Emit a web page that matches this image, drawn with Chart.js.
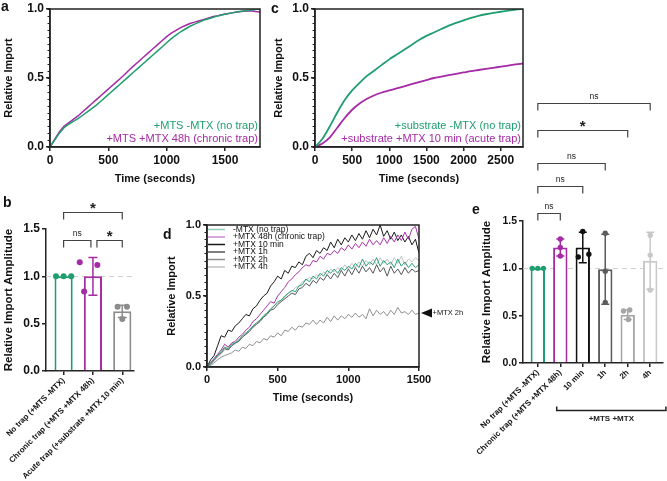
<!DOCTYPE html>
<html>
<head>
<meta charset="utf-8">
<script src="https://cdn.jsdelivr.net/npm/chart.js@4.4.1/dist/chart.umd.min.js"></script>
<style>
  body { margin: 0; background: #fff; }
  #wrap { position: relative; width: 667px; height: 481px; overflow: hidden; font-family: "Liberation Sans", Arial, sans-serif; }
  #wrap canvas { position: absolute; }
  .tag { position: absolute; font-weight: bold; font-size: 14px; line-height: 14px; color: #111; }
</style>
</head>
<body>
<div id="wrap">
  <canvas id="chartA" width="300" height="188" style="left:0;top:0"></canvas>
  <canvas id="chartC" width="290" height="188" style="left:270px;top:0"></canvas>
  <canvas id="chartB" width="160" height="291" style="left:0;top:190px"></canvas>
  <canvas id="chartD" width="302" height="217" style="left:163px;top:190px"></canvas>
  <canvas id="chartE" width="227" height="396" style="left:440px;top:85px"></canvas>
  <div class="tag" style="left:1px;top:-1px">a</div>
  <div class="tag" style="left:271px;top:1px">c</div>
  <div class="tag" style="left:3px;top:195px">b</div>
  <div class="tag" style="left:163px;top:227px">d</div>
  <div class="tag" style="left:472px;top:202px">e</div>
</div>
<script>
// ---- panel a: import kinetics, chronic trap ----
const timeA = [0, 40, 80, 120, 160, 200, 240, 280, 320, 360, 400, 440, 480, 520, 560, 600, 640, 680, 720, 760,
  800, 840, 880, 920, 960, 1000, 1040, 1080, 1120, 1160, 1200, 1240, 1280, 1320, 1360, 1400, 1440, 1480, 1520, 1560,
  1600, 1640, 1680, 1720, 1760, 1800];
const noTrapA = [0, 0.05, 0.10, 0.14, 0.165, 0.185, 0.205, 0.23, 0.255, 0.28, 0.305, 0.335, 0.365, 0.395, 0.425, 0.455,
  0.485, 0.515, 0.545, 0.575, 0.605, 0.635, 0.665, 0.695, 0.725, 0.755, 0.785, 0.81, 0.835, 0.855, 0.875, 0.89, 0.905,
  0.92, 0.93, 0.94, 0.95, 0.958, 0.965, 0.972, 0.978, 0.983, 0.988, 0.992, 0.996, 1.0];
const chronicA = [0, 0.055, 0.11, 0.15, 0.175, 0.20, 0.225, 0.255, 0.285, 0.315, 0.345, 0.375, 0.405, 0.435, 0.465, 0.495,
  0.525, 0.56, 0.59, 0.62, 0.65, 0.68, 0.71, 0.74, 0.77, 0.80, 0.825, 0.845, 0.865, 0.88, 0.895, 0.905, 0.915, 0.925,
  0.935, 0.945, 0.952, 0.96, 0.966, 0.972, 0.978, 0.982, 0.985, 0.987, 0.982, 0.978];
const xTicksA = [0, 500, 1000, 1500];

// ---- panel c: import kinetics, acute trap ----
const timeC = [0, 100, 200, 300, 400, 500, 600, 700, 800, 900, 1000, 1100, 1200, 1300, 1400, 1500, 1600, 1700, 1800,
  1900, 2000, 2100, 2200, 2300, 2400, 2500, 2600, 2700, 2800];
const noTrapC = [0, 0.06, 0.15, 0.25, 0.34, 0.41, 0.465, 0.515, 0.555, 0.595, 0.635, 0.67, 0.705, 0.74, 0.775, 0.805,
  0.83, 0.855, 0.88, 0.90, 0.918, 0.935, 0.95, 0.962, 0.972, 0.98, 0.988, 0.995, 1.0];
const acuteC = [0, 0.025, 0.07, 0.14, 0.21, 0.27, 0.315, 0.35, 0.375, 0.395, 0.41, 0.425, 0.44, 0.455, 0.47, 0.485,
  0.50, 0.51, 0.52, 0.53, 0.54, 0.55, 0.558, 0.566, 0.574, 0.582, 0.59, 0.598, 0.605];
const xTicksC = [0, 500, 1000, 1500, 2000, 2500];

// ---- panel d: single traces ----
const timeD = [0, 25, 50, 75, 100, 125, 150, 175, 200, 225, 250, 275, 300, 325, 350, 375, 400, 425, 450, 475,
  500, 525, 550, 575, 600, 625, 650, 675, 700, 725, 750, 775, 800, 825, 850, 875, 900, 925, 950, 975,
  1000, 1025, 1050, 1075, 1100, 1125, 1150, 1175, 1200, 1225, 1250, 1275, 1300, 1325, 1350, 1375, 1400, 1425, 1450, 1475, 1500];
const noTrapD = [0, .03, .05, .08, .11, .14, .13, .16, .17, .19, .22, .24, .26, .29, .31, .33, .36, .38, .41, .43,
  .46, .47, .50, .52, .54, .53, .57, .58, .62, .60, .64, .62, .66, .64, .68, .66, .69, .66, .70, .68,
  .71, .69, .73, .70, .76, .71, .74, .72, .77, .71, .75, .72, .74, .70, .76, .71, .74, .70, .73, .70, .72];
const mtx48hD = [0, .03, .06, .09, .12, .16, .14, .17, .18, .21, .23, .26, .28, .32, .34, .37, .40, .43, .46, .45,
  .50, .53, .56, .60, .62, .65, .67, .70, .72, .71, .75, .74, .78, .76, .80, .79, .82, .80, .84, .82,
  .86, .83, .87, .84, .88, .85, .90, .86, .89, .86, .91, .87, .92, .88, .93, .89, .95, .90, .97, .99, .90];
const mtx10minD = [0, .05, .08, .15, .22, .21, .26, .25, .29, .31, .34, .37, .36, .41, .43, .47, .50, .52, .57, .60,
  .64, .62, .68, .66, .71, .70, .74, .72, .78, .80, .77, .82, .80, .84, .82, .88, .84, .90, .86, .91,
  .88, .93, .89, .94, .90, .96, .91, .97, .93, 1.0, .92, .96, .90, .95, .89, .93, .88, .92, .86, .90, .80];
const mtx1hD = [0, .02, .05, .08, .10, .13, .12, .15, .17, .18, .21, .23, .25, .28, .30, .32, .35, .37, .40, .41,
  .44, .46, .48, .50, .52, .51, .55, .56, .59, .57, .61, .59, .63, .61, .65, .62, .66, .63, .68, .64,
  .69, .65, .70, .66, .71, .67, .70, .66, .72, .67, .70, .64, .71, .66, .69, .65, .70, .66, .69, .67, .68];
const mtx2hD = [0, .01, .03, .05, .07, .08, .09, .10, .12, .11, .14, .13, .16, .15, .18, .17, .20, .19, .22, .21,
  .24, .22, .26, .25, .28, .26, .29, .28, .31, .30, .33, .30, .33, .31, .35, .32, .36, .33, .36, .34,
  .37, .35, .38, .35, .37, .34, .41, .36, .40, .37, .39, .36, .40, .37, .42, .38, .39, .37, .40, .37, .38];
const mtx4hD = [0, .02, .04, .07, .09, .12, .13, .15, .16, .19, .21, .23, .26, .28, .31, .33, .36, .38, .40, .43,
  .45, .47, .49, .52, .53, .56, .57, .60, .61, .63, .62, .65, .64, .67, .65, .69, .67, .70, .68, .72,
  .69, .73, .70, .74, .71, .75, .72, .76, .72, .77, .73, .76, .72, .77, .73, .78, .72, .76, .74, .77, .75];
const xTicksD = [0, 500, 1000, 1500];
const yTicksLine = [0, 0.5, 1.0];

// ---- panel b: amplitudes ----
const labelsB = ['No trap (+MTS -MTX)', 'Chronic trap (+MTS +MTX 48h)', 'Acute trap (+substrate +MTX 10 min)'];
const meanB = [1.0, 1.0, 0.63];
const sdB = [0, 0.2, 0.065];
const pointsB = [[1.0, 1.0, 1.0], [1.15, 1.12, 0.84], [0.68, 0.68, 0.55]];

// ---- panel e: amplitudes ----
const labelsE = ['No trap (+MTS -MTX)', 'Chronic trap (+MTS +MTX 48h)', '10 min', '1h', '2h', '4h'];
const meanE = [1.0, 1.22, 1.22, 0.99, 0.51, 1.08];
const sdE = [0, 0.09, 0.16, 0.37, 0.05, 0.30];
const pointsE = [[1.0, 1.0, 1.0], [1.31, 1.22, 1.13], [1.12, 1.39, 1.15], [1.37, 0.97, 0.64], [0.55, 0.56, 0.46], [1.35, 1.14, 0.77]];
const yTicksBar = [0, 0.5, 1.0, 1.5];

// colours and other styling
const INK = '#222';
const GREEN = '#1f9e6f';
const PURPLE = '#a52aa5';
const FONT = '"Liberation Sans", Arial, sans-serif';
const jitterB = [[-0.26, 0, 0.26], [-0.45, 0.15, -0.3], [-0.16, 0.16, 0]];
const jitterE = [[-0.25, 0, 0.25], [0, 0, 0], [-0.2, 0, 0.27], [0, 0, 0], [-0.19, 0.09, 0.03], [0, 0, 0]];

Chart.defaults.font.family = FONT;
Chart.defaults.color = '#111';
Chart.defaults.animation = false;
Chart.defaults.events = [];
Chart.defaults.plugins.legend.display = false;
Chart.defaults.plugins.tooltip.enabled = false;

function toXY(xs, ys) {
    return ys.map((v, i) => ({ x: xs[i], y: v }));
}

function fixedTicks(values) {
    return s => { s.ticks = values.map(v => ({ value: v })); };
}

const axisGrid = { drawOnChartArea: false, tickLength: 4, color: INK, lineWidth: 1.5 };
const axisBorder = { color: INK, width: 1.5 };

function lineScales(o) {
    return {
        x: {
            type: 'linear', min: 0, max: o.xMax,
            border: axisBorder, grid: axisGrid,
            afterBuildTicks: fixedTicks(o.xTicks),
            ticks: { autoSkip: false, maxRotation: 0, padding: 2, font: { size: o.tick, weight: 'bold' }, callback: v => String(v) },
            title: { display: true, text: 'Time (seconds)', font: { size: 11, weight: 'bold' }, padding: { top: 1, bottom: 2 } },
            afterFit(s) { s.height = o.xH; s.paddingLeft = 0; s.paddingRight = 0; }
        },
        y: {
            min: 0, max: 1,
            border: axisBorder, grid: axisGrid,
            afterBuildTicks: fixedTicks(yTicksLine),
            ticks: { padding: 2, font: { size: o.tick, weight: 'bold' }, callback: v => v.toFixed(1) },
            title: { display: true, text: 'Relative Import', font: { size: 11, weight: 'bold' }, padding: { top: 2, bottom: 4 } },
            afterFit(s) { s.width = o.yW; s.paddingTop = 0; s.paddingBottom = 0; }
        }
    };
}

// box round the plot area
const frame = {
    id: 'frame',
    afterDatasetsDraw(chart) {
        const { ctx, chartArea: a } = chart;
        ctx.save();
        ctx.strokeStyle = INK;
        ctx.lineWidth = 1.5;
        ctx.strokeRect(a.left, a.top, a.right - a.left, a.bottom - a.top);
        ctx.restore();
    }
};

// small ticks every 0.05 on the y axis
const minorTicks = {
    id: 'minorTicks',
    afterDraw(chart) {
        const { ctx, chartArea: a } = chart;
        const y = chart.scales.y;
        ctx.save();
        ctx.strokeStyle = INK;
        ctx.lineWidth = 1;
        for (let i = 0; i <= 20; i++) {
            const py = Math.round(y.getPixelForValue(i * 0.05)) + 0.5;
            ctx.beginPath();
            ctx.moveTo(a.left - 2.5, py);
            ctx.lineTo(a.left, py);
            ctx.stroke();
        }
        ctx.restore();
    }
};

function cornerLegend(items) {
    return {
        id: 'cornerLegend',
        afterDraw(chart) {
            const { ctx, chartArea: a } = chart;
            ctx.save();
            ctx.font = '11px ' + FONT;
            ctx.textAlign = 'right';
            ctx.textBaseline = 'middle';
            items.forEach((it, i) => {
                ctx.fillStyle = it.color;
                ctx.fillText(it.text, a.right - 2, a.bottom - 21.5 + i * 13.5);
            });
            ctx.restore();
        }
    };
}

// Panel a
new Chart(document.getElementById('chartA'), {
    type: 'line',
    data: {
        datasets: [
            { data: toXY(timeA, noTrapA), borderColor: GREEN, borderWidth: 1.5, pointRadius: 0 },
            { data: toXY(timeA, chronicA), borderColor: PURPLE, borderWidth: 1.5, pointRadius: 0 }
        ]
    },
    options: {
        responsive: false,
        layout: { padding: { top: 9, right: 40, left: 0, bottom: 0 } },
        scales: lineScales({ xMax: 1800, xTicks: xTicksA, tick: 12, xH: 41, yW: 50 })
    },
    plugins: [frame, minorTicks, cornerLegend([
        { text: '+MTS -MTX (no trap)', color: GREEN },
        { text: '+MTS +MTX 48h (chronic trap)', color: PURPLE }
    ])]
});

// Panel c
new Chart(document.getElementById('chartC'), {
    type: 'line',
    data: {
        datasets: [
            { data: toXY(timeC, noTrapC), borderColor: GREEN, borderWidth: 1.8, pointRadius: 0, cubicInterpolationMode: 'monotone' },
            { data: toXY(timeC, acuteC), borderColor: PURPLE, borderWidth: 1.8, pointRadius: 0, cubicInterpolationMode: 'monotone' }
        ]
    },
    options: {
        responsive: false,
        layout: { padding: { top: 9, right: 37, left: 0, bottom: 0 } },
        scales: lineScales({ xMax: 2800, xTicks: xTicksC, tick: 12, xH: 41, yW: 45 })
    },
    plugins: [frame, minorTicks, cornerLegend([
        { text: '+substrate -MTX (no trap)', color: GREEN },
        { text: '+substrate +MTX 10 min (acute trap)', color: PURPLE }
    ])]
});

// Panel d
const tracesD = [
    { label: '-MTX (no trap)', data: noTrapD, color: 'rgba(31,158,111,0.95)', swatch: 'rgba(31,158,111,0.5)' },
    { label: '+MTX 48h (chronic trap)', data: mtx48hD, color: 'rgba(165,42,165,0.95)', swatch: 'rgba(165,42,165,0.55)' },
    { label: '+MTX 10 min', data: mtx10minD, color: '#1a1a1a', swatch: '#1a1a1a' },
    { label: '+MTX 1h', data: mtx1hD, color: '#555', swatch: '#555' },
    { label: '+MTX 2h', data: mtx2hD, color: '#8f8f8f', swatch: '#8f8f8f' },
    { label: '+MTX 4h', data: mtx4hD, color: '#c2c2c2', swatch: '#c2c2c2' }
];

const legendD = {
    id: 'legendD',
    afterDraw(chart) {
        const { ctx, chartArea: a } = chart;
        ctx.save();
        ctx.font = '8.5px ' + FONT;
        ctx.textBaseline = 'middle';
        ctx.fillStyle = '#111';
        tracesD.forEach((t, i) => {
            const y = a.top + 4.5 + i * 7.5;
            ctx.strokeStyle = t.swatch;
            ctx.lineWidth = 1.5;
            ctx.beginPath();
            ctx.moveTo(a.left + 1, y);
            ctx.lineTo(a.left + 18, y);
            ctx.stroke();
            ctx.fillText(t.label, a.left + 26, y);
        });
        ctx.restore();
    }
};

// arrow marking the plateau of the 2h trace
const arrow2h = {
    id: 'arrow2h',
    afterDraw(chart) {
        const { ctx, chartArea: a } = chart;
        const y = chart.scales.y.getPixelForValue(mtx2hD[mtx2hD.length - 1]);
        ctx.save();
        ctx.fillStyle = '#111';
        ctx.beginPath();
        ctx.moveTo(a.right + 2, y);
        ctx.lineTo(a.right + 13, y - 4.5);
        ctx.lineTo(a.right + 13, y + 4.5);
        ctx.closePath();
        ctx.fill();
        ctx.font = '7.5px ' + FONT;
        ctx.textBaseline = 'middle';
        ctx.fillText('+MTX 2h', a.right + 13.5, y);
        ctx.restore();
    }
};

new Chart(document.getElementById('chartD'), {
    type: 'line',
    data: {
        datasets: tracesD.map(t => ({
            data: toXY(timeD, t.data), borderColor: t.color, borderWidth: 1, pointRadius: 0
        }))
    },
    options: {
        responsive: false,
        layout: { padding: { top: 35, right: 46, left: 0, bottom: 0 } },
        scales: lineScales({ xMax: 1500, xTicks: xTicksD, tick: 11, xH: 40, yW: 44 })
    },
    plugins: [frame, minorTicks, legendD, arrow2h]
});

// Bar panels (b and e)
function barOverlay(o) {
    return {
        id: 'barOverlay',
        beforeDatasetsDraw(chart) {
            const { ctx, chartArea: a } = chart;
            const y = Math.round(chart.scales.y.getPixelForValue(1)) + 0.5;
            ctx.save();
            ctx.strokeStyle = '#cfcfcf';
            ctx.lineWidth = 1;
            ctx.setLineDash([5, 4]);
            ctx.beginPath();
            ctx.moveTo(a.left, y);
            ctx.lineTo(a.right, y);
            ctx.stroke();
            ctx.restore();
        },
        afterDatasetsDraw(chart) {
            const { ctx } = chart;
            const xs = chart.scales.x, ys = chart.scales.y;
            ctx.save();
            ctx.lineWidth = 1.5;
            o.means.forEach((m, i) => {
                if (!o.sds[i]) return;
                const x = xs.getPixelForValue(i);
                const top = ys.getPixelForValue(m + o.sds[i]);
                const bot = ys.getPixelForValue(m - o.sds[i]);
                ctx.strokeStyle = o.colors[i];
                ctx.beginPath();
                ctx.moveTo(x, top); ctx.lineTo(x, bot);
                ctx.moveTo(x - o.cap, top); ctx.lineTo(x + o.cap, top);
                ctx.moveTo(x - o.cap, bot); ctx.lineTo(x + o.cap, bot);
                ctx.stroke();
            });
            ctx.restore();
        },
        afterDraw(chart) {
            const { ctx, chartArea: a } = chart;
            const xs = chart.scales.x, ys = chart.scales.y;
            ctx.save();
            ctx.strokeStyle = '#444';
            ctx.lineWidth = 1.2;
            ctx.fillStyle = '#222';
            ctx.textAlign = 'center';
            o.brackets.forEach(b => {
                const x1 = xs.getPixelForValue(b.from) + (b.pad ? b.pad[0] : 0);
                const x2 = xs.getPixelForValue(b.to) + (b.pad ? b.pad[1] : 0);
                const y = Math.round(ys.getPixelForValue(b.level)) + 0.5;
                ctx.beginPath();
                ctx.moveTo(x1, y + 7); ctx.lineTo(x1, y); ctx.lineTo(x2, y); ctx.lineTo(x2, y + 7);
                ctx.stroke();
                if (b.label === '*') {
                    ctx.font = 'bold 15px ' + FONT;
                    ctx.fillText('*', (x1 + x2) / 2, y + 0.5);
                } else {
                    ctx.font = '8.5px ' + FONT;
                    ctx.fillText(b.label, (x1 + x2) / 2, y - 5);
                }
            });
            if (o.group) {
                const g = o.group;
                const x1 = xs.getPixelForValue(g.from), x2 = xs.getPixelForValue(g.to);
                const y = a.bottom + g.below + 0.5;
                ctx.strokeStyle = '#222';
                ctx.lineWidth = 1.5;
                ctx.beginPath();
                ctx.moveTo(x1, y - 4); ctx.lineTo(x1, y); ctx.lineTo(x2, y); ctx.lineTo(x2, y - 4);
                ctx.stroke();
                ctx.font = 'bold 8px ' + FONT;
                ctx.textBaseline = 'middle';
                ctx.fillText(g.text, (x1 + x2) / 2, y + 8.5);
            }
            ctx.restore();
        }
    };
}

function barChart(id, o) {
    const dots = [];
    const dotColors = [];
    o.points.forEach((pts, i) => pts.forEach((v, j) => {
        dots.push({ x: i + o.jitter[i][j], y: v });
        dotColors.push(o.colors[i]);
    }));
    return new Chart(document.getElementById(id), {
        type: 'bar',
        data: {
            datasets: [
                { type: 'scatter', data: dots, pointRadius: o.dot, pointBackgroundColor: dotColors, pointBorderWidth: 0, order: 0 },
                {
                    data: o.means.map((m, i) => ({ x: i, y: m })), grouped: false,
                    backgroundColor: '#fff', borderColor: o.colors, borderWidth: 2,
                    categoryPercentage: 1, barPercentage: o.barPct, order: 1
                }
            ]
        },
        options: {
            responsive: false,
            layout: { padding: o.padding },
            scales: {
                x: {
                    type: 'linear', min: o.xRange[0], max: o.xRange[1], offset: false,
                    border: axisBorder,
                    grid: Object.assign({}, axisGrid, { offset: false }),
                    afterBuildTicks: fixedTicks(o.labels.map((_, i) => i)),
                    ticks: {
                        autoSkip: false, minRotation: 45, maxRotation: 45, padding: 1,
                        font: { size: 8, weight: 'bold' }, callback: v => o.labels[v]
                    },
                    afterFit(s) { s.height = o.xH; s.paddingLeft = 0; s.paddingRight = 0; }
                },
                y: {
                    min: 0, max: 1.5,
                    border: axisBorder, grid: axisGrid,
                    afterBuildTicks: fixedTicks(yTicksBar),
                    ticks: { padding: 2, font: { size: o.tick, weight: 'bold' }, callback: v => v.toFixed(1) },
                    title: { display: true, text: 'Relative Import Amplitude', font: { size: 11.5, weight: 'bold' }, padding: { top: 2, bottom: 3 } },
                    afterFit(s) { s.width = o.yW; s.paddingTop = 0; s.paddingBottom = 0; }
                }
            }
        },
        plugins: [barOverlay(o)]
    });
}

barChart('chartB', {
    labels: labelsB, means: meanB, sds: sdB, points: pointsB, jitter: jitterB,
    colors: [GREEN, PURPLE, '#8c8c8c'], xRange: [-0.6, 2.4],
    barPct: 0.62, dot: 3, cap: 4.5, tick: 12, yW: 46, xH: 110,
    padding: { top: 39, right: 26, left: 0, bottom: 0 },
    brackets: [
        { from: 0, to: 2, level: 1.68, label: '*' },
        { from: 0, to: 1, level: 1.38, label: 'ns', pad: [0, -2] },
        { from: 1, to: 2, level: 1.38, label: '*', pad: [4, 0] }
    ]
});

barChart('chartE', {
    labels: labelsE, means: meanE, sds: sdE, points: pointsE, jitter: jitterE,
    colors: [GREEN, PURPLE, '#111', '#5c5c5c', '#a5a5a5', '#c8c8c8'], xRange: [-0.66, 5.57],
    barPct: 0.64, dot: 2.7, cap: 4, tick: 10.5, yW: 45, xH: 118,
    padding: { top: 136, right: 3, left: 38, bottom: 0 },
    brackets: [
        { from: 0, to: 5, level: 2.75, label: 'ns' },
        { from: 0, to: 4, level: 2.46, label: '*' },
        { from: 0, to: 3, level: 2.11, label: 'ns' },
        { from: 0, to: 2, level: 1.87, label: 'ns' },
        { from: 0, to: 1, level: 1.58, label: 'ns' }
    ],
    group: { from: 0.84, to: 5.7, below: 47, text: '+MTS +MTX' }
});
</script>
</body>
</html>
